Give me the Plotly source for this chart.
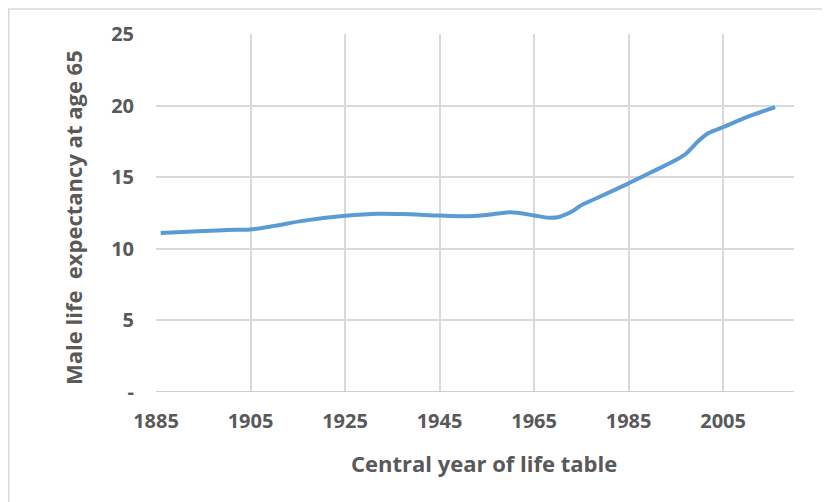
import plotly.graph_objects as go

years = [1886, 1895, 1900, 1905, 1910, 1916, 1925, 1932, 1937, 1945, 1950, 1955,
         1960, 1965, 1968, 1970, 1973, 1975, 1979, 1985, 1990, 1995, 1997, 2000,
         2002, 2005, 2010, 2016]
male_e65 = [11.1, 11.25, 11.32, 11.35, 11.6, 11.95, 12.3, 12.45, 12.43, 12.32, 12.27, 12.36,
            12.55, 12.33, 12.17, 12.2, 12.6, 13.05, 13.65, 14.57, 15.38, 16.2, 16.6, 17.6,
            18.1, 18.5, 19.2, 19.9]

x_ticks = [1885, 1905, 1925, 1945, 1965, 1985, 2005]
y_ticks = [0, 5, 10, 15, 20, 25]
y_tick_labels = ["-", "5", "10", "15", "20", "25"]

x_title = "Central year of life table"
y_title = "Male life\u00a0 expectancy at age 65"

grey = "#595959"
font_family = "'Open Sans', Lato, sans-serif"

fig = go.Figure()
fig.add_trace(go.Scatter(
    x=years, y=male_e65, mode="lines",
    line=dict(color="#5b9bd5", width=4, shape="spline", smoothing=0.8),
    showlegend=False, hoverinfo="x+y",
))

# page body has an 8px margin; figure sized to fill the 830x502 window
W, H = 822, 494
L, R, T, B = 148, 36, 26, 110
pw, ph = W - L - R, H - T - B

fig.update_layout(
    width=W, height=H,
    margin=dict(l=L, r=R, t=T, b=B, pad=0),
    paper_bgcolor="white", plot_bgcolor="white",
    font=dict(family=font_family, color=grey, size=20),
    xaxis=dict(
        range=[1885, 2020], tickmode="array", tickvals=x_ticks,
        ticktext=[str(v) for v in x_ticks],
        showgrid=True, gridcolor="#d9d9d9", gridwidth=1.5,
        zeroline=False, showline=False,
        ticks="outside", ticklen=11, tickcolor="rgba(0,0,0,0)",
        tickfont=dict(family=font_family, size=20, color=grey, weight="bold"),
    ),
    yaxis=dict(
        range=[0, 25], tickmode="array", tickvals=y_ticks, ticktext=y_tick_labels,
        showgrid=True, gridcolor="#d9d9d9", gridwidth=1.5,
        zeroline=False, showline=False,
        ticks="outside", ticklen=17, tickcolor="rgba(0,0,0,0)",
        tickfont=dict(family=font_family, size=20, color=grey, weight="bold"),
    ),
    shapes=[
        dict(type="line", xref="paper", yref="y", x0=0, x1=1, y0=0, y1=0,
             line=dict(color="#bfbfbf", width=1.5)),
        dict(type="rect", xref="paper", yref="paper",
             x0=(0.75 - L) / pw, x1=(W + 5 - L) / pw,
             y0=(H - B - (H + 5)) / ph, y1=(H - B - 1) / ph,
             line=dict(color="#d9d9d9", width=1.5), fillcolor="rgba(0,0,0,0)", layer="below"),
    ],
    annotations=[
        dict(text=y_title, textangle=-90, xref="paper", yref="paper",
             x=(65 - L) / pw, y=(H - B - 209) / ph, showarrow=False,
             xanchor="center", yanchor="middle",
             font=dict(family=font_family, size=22, color=grey, weight="bold")),
        dict(text=x_title, xref="paper", yref="paper",
             x=(476 - L) / pw, y=(H - B - 455) / ph, showarrow=False,
             xanchor="center", yanchor="middle",
             font=dict(family=font_family, size=22, color=grey, weight="bold")),
    ],
)

fig.write_html("out.html")
